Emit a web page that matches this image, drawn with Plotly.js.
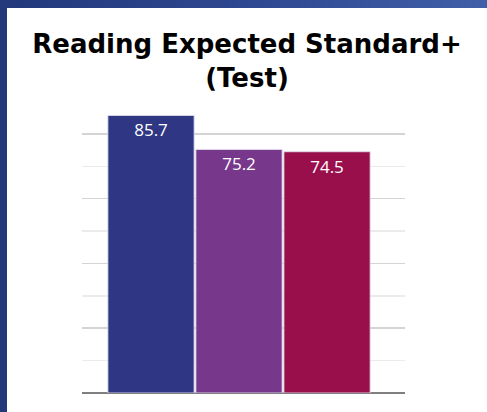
<!DOCTYPE html>
<html>
<head>
<meta charset="utf-8">
<script src="https://cdn.plot.ly/plotly-3.0.1.min.js"></script>
<style>
  html, body { margin: 0; padding: 0; width: 487px; height: 412px; overflow: hidden; }
  body { background: linear-gradient(to right, #22387a 0%, #2d4790 50%, #405fa8 100%); position: relative; }
  #chart { position: absolute; left: 7px; top: 8px; width: 480px; height: 404px; background: #ffffff; }
</style>
</head>
<body>
<div id="chart"></div>
<script>
const titleText = "Reading Expected Standard+<br>(Test)";
const categories = ["School", "Local Authority", "National"];
const values = [85.7, 75.2, 74.5];
const barColors = ["#2f3784", "#77388b", "#990f4c"];
const valueLabels = values.map(v => v.toFixed(1));

const trace = {
  type: "bar",
  x: categories,
  y: values,
  text: valueLabels,
  textposition: "inside",
  insidetextanchor: "end",
  textangle: 0,
  textfont: { family: "Open Sans, sans-serif", size: 17, color: "#ffffff" },
  marker: { color: barColors, line: { color: "rgba(225,220,240,0.9)", width: 1 } },
  hoverinfo: "none",
  cliponaxis: false
};

const layout = {
  width: 480,
  height: 404,
  margin: { l: 75, r: 82, t: 100, b: 19, pad: 0 },
  paper_bgcolor: "#ffffff",
  plot_bgcolor: "#ffffff",
  showlegend: false,
  bargap: 0.02,
  title: {
    text: titleText,
    font: { family: "DejaVu Sans, sans-serif", size: 26, color: "#000000", weight: 700 },
    x: 0.5,
    xref: "container",
    xanchor: "center",
    y: 0.888,
    yref: "container",
    yanchor: "top"
  },
  xaxis: {
    type: "category",
    range: [-0.784, 2.886],
    showticklabels: false,
    showgrid: false,
    zeroline: false,
    showline: false,
    ticks: ""
  },
  yaxis: {
    range: [0, 88],
    dtick: 20,
    showticklabels: false,
    ticks: "",
    showgrid: true,
    gridcolor: "#d4d4d4",
    gridwidth: 1.5,
    minor: { dtick: 10, showgrid: true, gridcolor: "#ebebeb", gridwidth: 1.5 },
    zeroline: true,
    zerolinecolor: "#7f7f7f",
    zerolinewidth: 2,
    showline: false
  }
};

Plotly.newPlot("chart", [trace], layout, { displayModeBar: false, staticPlot: true });
</script>
</body>
</html>
